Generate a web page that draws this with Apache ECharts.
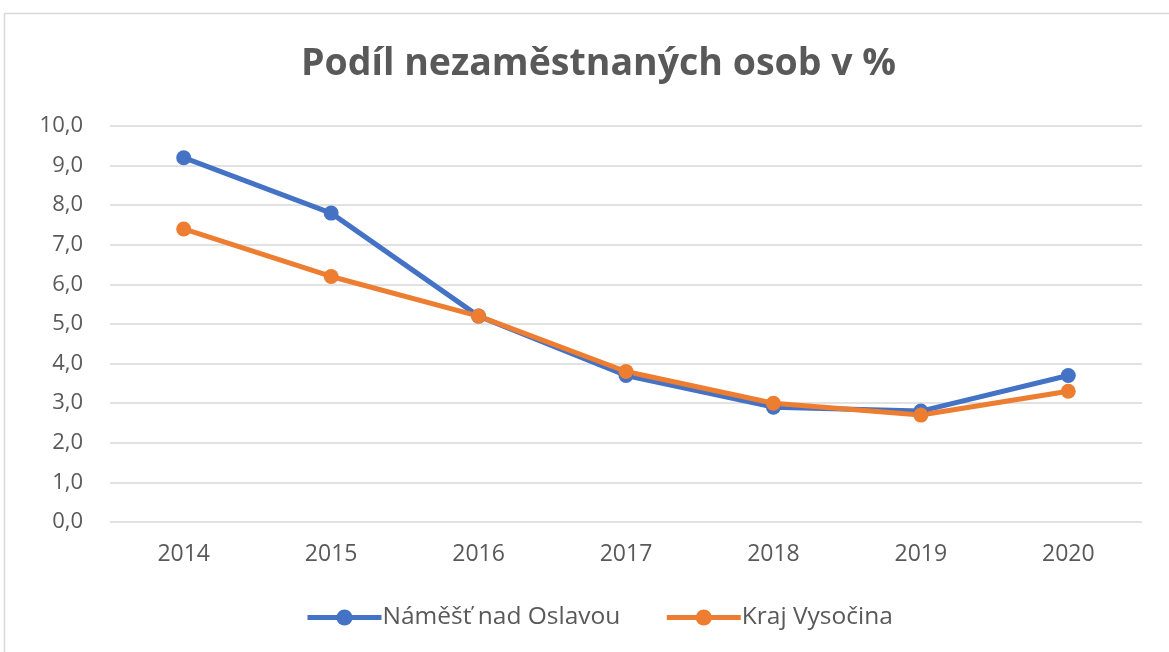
<!DOCTYPE html>
<html>
<head>
<meta charset="utf-8">
<script src="https://cdn.jsdelivr.net/npm/echarts@6/dist/echarts.min.js"></script>
<style>
html,body{margin:0;padding:0;background:#fff;}
#c{width:1169px;height:652px;}
</style>
</head>
<body>
<div id="c"></div>
<script>
const categories = ['2014','2015','2016','2017','2018','2019','2020'];
const namest = [9.2, 7.8, 5.2, 3.7, 2.9, 2.8, 3.7];
const vysocina = [7.4, 6.2, 5.2, 3.8, 3.0, 2.7, 3.3];
const seriesNames = ['Náměšť nad Oslavou', 'Kraj Vysočina'];

const chart = echarts.init(document.getElementById('c'), null, {renderer:'canvas'});
const font = '"Open Sans", "Noto Sans", sans-serif';
chart.setOption({
  backgroundColor: '#fff',
  animation: false,
  graphic: [{
    type: 'rect', silent: true, z: -1,
    shape: {x: 4.5, y: 13.5, width: 1300, height: 800},
    style: {fill: 'none', stroke: '#d9d9d9', lineWidth: 1.5}
  }],
  title: {
    text: 'Podíl nezaměstnaných osob v %',
    left: 296, top: 40,
    textStyle: {fontFamily: font, fontSize: 37.5, fontWeight: 'bold', color: '#595959'}
  },
  legend: {
    bottom: 17, left: 300,
    itemWidth: 74, itemHeight: 20, itemGap: 44,
    lineStyle: {width: 5},
    textStyle: {fontFamily: font, fontSize: 24.5, color: '#595959', padding: [0, 0, 0, -4]},
    data: seriesNames
  },
  grid: {left: 110, right: 27, top: 126, bottom: 130, containLabel: false},
  xAxis: {
    type: 'category', data: categories, boundaryGap: true,
    axisLine: {show: false}, axisTick: {show: false},
    axisLabel: {fontFamily: font, fontSize: 23, color: '#595959', margin: 21}
  },
  yAxis: {
    type: 'value', min: 0, max: 10, interval: 1,
    axisLine: {show: false}, axisTick: {show: false},
    splitLine: {lineStyle: {color: '#d9d9d9', width: 1.5}},
    axisLabel: {fontFamily: font, fontSize: 22, color: '#595959', margin: 27,
      formatter: v => v.toFixed(1).replace('.', ',')}
  },
  series: [
    {name: seriesNames[0], type: 'line', data: namest, symbol: 'circle', symbolSize: 15,
     lineStyle: {width: 5, color: '#4472c4'}, itemStyle: {color: '#4472c4'}},
    {name: seriesNames[1], type: 'line', data: vysocina, symbol: 'circle', symbolSize: 15,
     lineStyle: {width: 5, color: '#ed7d31'}, itemStyle: {color: '#ed7d31'}}
  ]
});
</script>
</body>
</html>
